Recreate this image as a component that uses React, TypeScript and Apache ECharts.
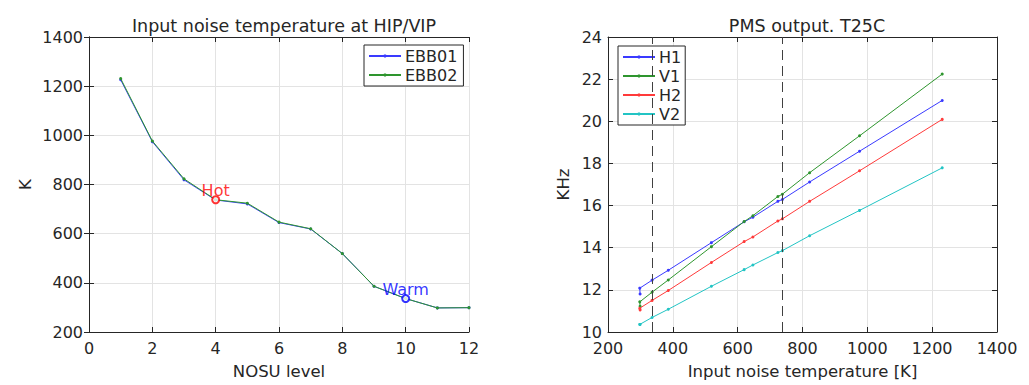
import React, { useEffect, useRef } from "react";
import * as echarts from "echarts";

const nosuLevels = [1, 2, 3, 4, 5, 6, 7, 8, 9, 10, 11, 12];
const ebb01 = [1226, 974, 819, 737, 721, 645, 619, 519, 386, 336, 298, 299];
const ebb02 = [1231, 977, 823, 738, 724, 647, 620, 519, 386, 336, 298, 299];

const tempK = [1231, 976, 822, 738, 724, 647, 620, 519, 386, 336, 298, 299];
const h1 = [20.99, 18.58, 17.12, 16.29, 16.2, 15.45, 15.23, 14.24, 12.93, 12.46, 12.08, 11.8];
const v1 = [22.24, 19.31, 17.56, 16.54, 16.43, 15.52, 15.24, 14.05, 12.47, 11.89, 11.43, 11.22];
const h2 = [20.09, 17.65, 16.2, 15.37, 15.27, 14.51, 14.29, 13.3, 11.97, 11.5, 11.13, 11.05];
const v2 = [17.79, 15.77, 14.57, 13.86, 13.77, 13.18, 12.96, 12.17, 11.08, 10.69, 10.36, 10.36];

const hotPoint = [4, 738];
const warmPoint = [10, 336];
const dashedTemps = [336, 738];

const FONT = "DejaVu Sans";
const AX = "#262626";

export default function App() {
  const ref = useRef<HTMLDivElement>(null);
  useEffect(() => {
    const chart = echarts.init(ref.current!, null, { renderer: "svg" });
    const axLine = { show: true, lineStyle: { color: AX, width: 1 } };
    const tick = { show: true, inside: true, length: 5, lineStyle: { color: AX } };
    const split = { show: true, lineStyle: { color: "#e3e3e3", width: 1 } };
    const lbl = { color: AX, fontFamily: FONT, fontSize: 16, formatter: (v: number) => String(v) };
    const nameStyle = { color: AX, fontFamily: FONT, fontSize: 16.5 };
    const mkX = (grid: number, min: number, max: number, interval: number, name: string) => [
      {
        type: "value", gridIndex: grid, min, max, interval, position: "bottom",
        name, nameLocation: "middle", nameGap: 31, nameTextStyle: nameStyle,
        axisLine: axLine, axisTick: tick, splitLine: split, axisLabel: { ...lbl, margin: 8 },
      },
      {
        type: "value", gridIndex: grid, min, max, interval, position: "top",
        axisLine: axLine, axisTick: tick, splitLine: { show: false }, axisLabel: { show: false },
      },
    ];
    const mkY = (grid: number, min: number, max: number, interval: number, name: string, gap: number) => [
      {
        type: "value", gridIndex: grid, min, max, interval, position: "left",
        name, nameLocation: "middle", nameGap: gap, nameTextStyle: nameStyle,
        axisLine: axLine, axisTick: tick, splitLine: split, axisLabel: { ...lbl, margin: 6 },
      },
      {
        type: "value", gridIndex: grid, min, max, interval, position: "right",
        axisLine: axLine, axisTick: tick, splitLine: { show: false }, axisLabel: { show: false },
      },
    ];
    const lineSeries = (name: string, color: string, data: number[][], xi: number, yi: number, z = 2) => ({
      type: "line", name, xAxisIndex: xi, yAxisIndex: yi, data, z,
      symbol: "circle", symbolSize: 3, showSymbol: true,
      lineStyle: { color, width: 1 }, itemStyle: { color },
    });
    const legendBase = {
      orient: "vertical", itemWidth: 32, itemHeight: 4, itemGap: 3,
      backgroundColor: "#fff", borderColor: AX, borderWidth: 1, borderRadius: 0,
      textStyle: { color: AX, fontFamily: FONT, fontSize: 16, padding: [0, 0, 0, -1] },
    };
    chart.setOption({
      animation: false,
      backgroundColor: "#ffffff",
      textStyle: { fontFamily: FONT },
      title: [
        { text: "Input noise temperature at HIP/VIP", left: 279, top: 12, textAlign: "center",
          textStyle: { color: AX, fontFamily: FONT, fontSize: 17.5, fontWeight: "normal" } },
        { text: "PMS output. T25C", left: 802, top: 12, textAlign: "center",
          textStyle: { color: AX, fontFamily: FONT, fontSize: 17.5, fontWeight: "normal" } },
      ],
      grid: [
        { left: 89, top: 37, width: 380, height: 298 },
        { left: 608, top: 37, width: 389, height: 298 },
      ],
      xAxis: [...mkX(0, 0, 12, 2, "NOSU level"), ...mkX(1, 200, 1400, 200, "Input noise temperature [K]")],
      yAxis: [...mkY(0, 200, 1400, 200, "K", 55), ...mkY(1, 10, 24, 2, "KHz", 36)],
      legend: [
        { ...legendBase, data: ["EBB01", "EBB02"], left: 364, top: 45, padding: [3, 6, 3, 4] },
        { ...legendBase, data: ["H1", "V1", "H2", "V2"], left: 618, top: 46, padding: [3, 4, 3, 4] },
      ],
      series: [
        lineSeries("EBB01", "#3a3aff", nosuLevels.map((x, i) => [x, ebb01[i]]), 0, 0, 2),
        lineSeries("EBB02", "#2e952e", nosuLevels.map((x, i) => [x, ebb02[i]]), 0, 0, 3),
        {
          type: "scatter", xAxisIndex: 0, yAxisIndex: 0, z: 5, data: [hotPoint],
          symbol: "emptyCircle", symbolSize: 7,
          itemStyle: { color: "#ff0000", borderColor: "#ff0000", borderWidth: 1 },
          label: { show: true, formatter: "Hot", position: "top", distance: -3, color: "#ff0000", fontFamily: FONT, fontSize: 16 },
        },
        {
          type: "scatter", xAxisIndex: 0, yAxisIndex: 0, z: 5, data: [warmPoint],
          symbol: "emptyCircle", symbolSize: 7,
          itemStyle: { color: "#0000ff", borderColor: "#0000ff", borderWidth: 1 },
          label: { show: true, formatter: "Warm", position: "top", distance: -3, color: "#0000ff", fontFamily: FONT, fontSize: 16 },
        },
        {
          ...lineSeries("H1", "#3a3aff", tempK.map((x, i) => [x, h1[i]]), 2, 2, 3),
          markLine: {
            silent: true, symbol: "none", label: { show: false },
            lineStyle: { color: "#404040", type: [10, 6], width: 1 },
            data: dashedTemps.map((t) => ({ xAxis: t })),
          },
        },
        lineSeries("V1", "#2e952e", tempK.map((x, i) => [x, v1[i]]), 2, 2, 3),
        lineSeries("H2", "#ff3a3a", tempK.map((x, i) => [x, h2[i]]), 2, 2, 3),
        lineSeries("V2", "#22c4c4", tempK.map((x, i) => [x, v2[i]]), 2, 2, 3),
      ],
    });
    return () => chart.dispose();
  }, []);
  return <div ref={ref} style={{ position: "fixed", left: 0, top: 0, width: 1029, height: 385 }} />;
}
